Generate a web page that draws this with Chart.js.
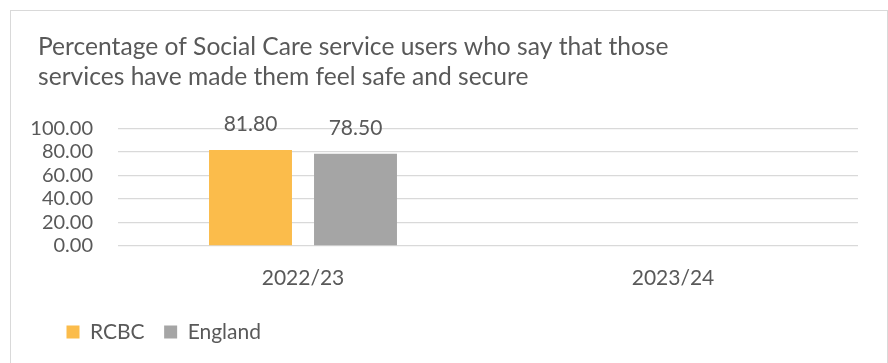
<!DOCTYPE html>
<html>
<head>
<meta charset="utf-8">
<script src="https://cdn.jsdelivr.net/npm/chart.js@4"></script>
<style>
  html, body { margin: 0; padding: 0; background: #fff; }
  #wrap { position: relative; width: 888px; height: 363px; overflow: hidden; }
  #frame { position: absolute; left: 10px; top: 10px; width: 876px; height: 400px; border: 1px solid #d9d9d9; pointer-events: none; }
  canvas { position: absolute; left: 0; top: 0; }
</style>
</head>
<body>
<div id="wrap">
  <canvas id="careChart" width="888" height="363"></canvas>
  <div id="frame"></div>
</div>
<script>
// values per reporting year
const years = ['2022/23', '2023/24'];
const rcbc = [81.80, null];
const england = [78.50, null];
const yTicks = [0, 20, 40, 60, 80, 100];

const textGrey = '#595959';
const fontFamily = 'Lato, "Open Sans", sans-serif';

// value labels above each bar
const barValues = {
  id: 'barValues',
  afterDatasetsDraw(chart) {
    const ctx = chart.ctx;
    ctx.save();
    ctx.font = '21px ' + fontFamily;
    ctx.fillStyle = textGrey;
    ctx.textAlign = 'center';
    ctx.textBaseline = 'alphabetic';
    chart.data.datasets.forEach((ds, i) => {
      chart.getDatasetMeta(i).data.forEach((bar, j) => {
        const v = ds.data[j];
        if (v === null || v === undefined) return;
        ctx.fillText(v.toFixed(2), bar.x, bar.y - 19);
      });
    });
    ctx.restore();
  }
};

// title and legend start further right than the axis labels
const blockNudge = {
  id: 'blockNudge',
  afterLayout(chart) {
    chart.titleBlock.left += 12;
    chart.titleBlock.right += 12;
    chart.legend.left += 21;
    chart.legend.right += 21;
  }
};

new Chart(document.getElementById('careChart').getContext('2d'), {
  type: 'bar',
  data: {
    labels: years,
    datasets: [
      { label: 'RCBC', data: rcbc, backgroundColor: '#fbbc4b' },
      { label: 'England', data: england, backgroundColor: '#a5a5a5' }
    ]
  },
  options: {
    responsive: false,
    animation: false,
    categoryPercentage: 0.5676,
    barPercentage: 0.79,
    layout: { padding: { left: 26, right: 30, top: 22, bottom: 10.5 } },
    plugins: {
      title: {
        display: true,
        align: 'start',
        text: ['Percentage of Social Care service users who say that those',
               'services have made them feel safe and secure'],
        color: textGrey,
        font: { family: fontFamily, size: 24.6, weight: 'normal', lineHeight: 1.22 },
        padding: { top: 10, bottom: 36.5 }
      },
      legend: {
        position: 'bottom',
        align: 'start',
        labels: {
          color: textGrey,
          boxWidth: 13,
          boxHeight: 13,
          padding: 19.5,
          font: { family: fontFamily, size: 21 }
        }
      },
      tooltip: { enabled: false }
    },
    scales: {
      x: {
        grid: { display: false },
        border: { display: false },
        ticks: { color: textGrey, padding: 11.4, font: { family: fontFamily, size: 21 } }
      },
      y: {
        min: yTicks[0],
        max: yTicks[yTicks.length - 1],
        grid: { color: '#d9d9d9', lineWidth: 1.3, drawTicks: false },
        border: { display: false },
        afterBuildTicks: (scale) => { scale.ticks = yTicks.map(v => ({ value: v })); },
        afterFit: (scale) => { scale.width = 92; },
        ticks: {
          color: textGrey,
          padding: 25,
          autoSkip: false,
          font: { family: fontFamily, size: 20 },
          callback: (v) => Number(v).toFixed(2)
        }
      }
    }
  },
  plugins: [barValues, blockNudge]
});
</script>
</body>
</html>
